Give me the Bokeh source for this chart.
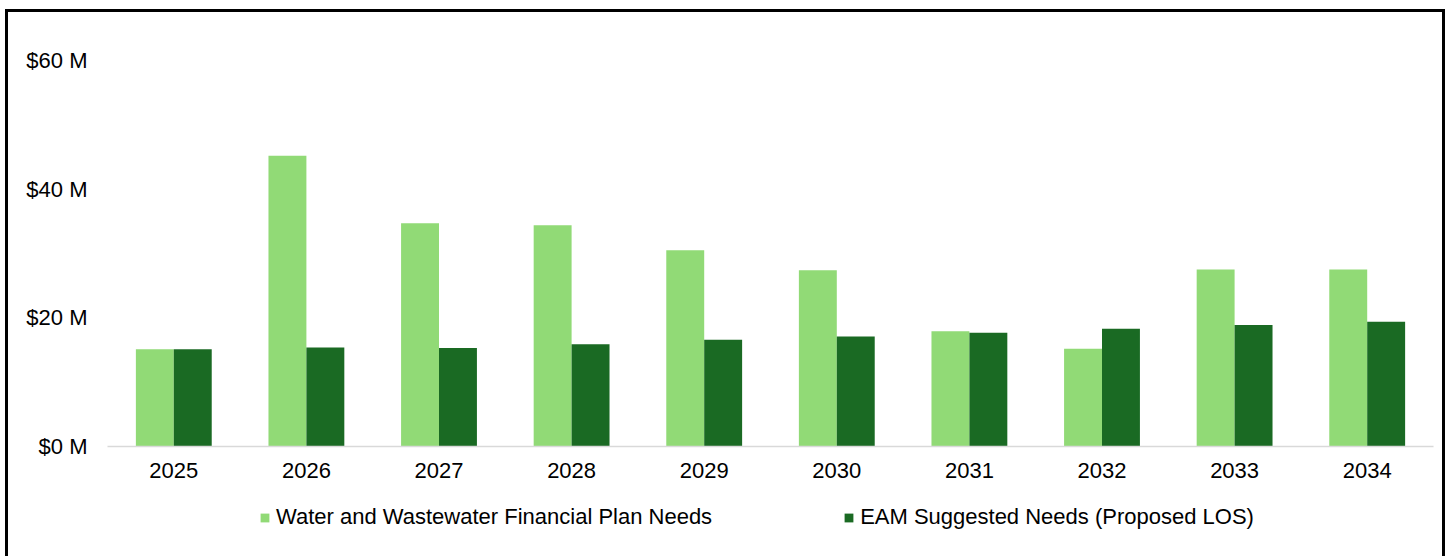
from bokeh.plotting import figure
from bokeh.layouts import column
from bokeh.models import ColumnDataSource, FactorRange, Range1d, Legend, LegendItem, FixedTicker
from bokeh.transform import dodge
from bokeh.embed import file_html
from bokeh.resources import INLINE

years = ["2025", "2026", "2027", "2028", "2029", "2030", "2031", "2032", "2033", "2034"]
plan_needs = [15.1, 45.2, 34.7, 34.4, 30.5, 27.4, 17.9, 15.2, 27.5, 27.5]
eam_needs = [15.1, 15.4, 15.3, 15.9, 16.6, 17.1, 17.7, 18.3, 18.9, 19.4]
series_names = ["Water and Wastewater Financial Plan Needs", "EAM Suggested Needs (Proposed LOS)"]
y_ticks = [0, 20, 40, 60]

LIGHT = "#91DA76"
DARK = "#1A6A23"
FONT = "Liberation Sans"

src = ColumnDataSource(dict(year=years, plan=plan_needs, eam=eam_needs))

p = figure(
    x_range=FactorRange(*years),
    y_range=Range1d(0, 60),
    width=1434, height=474,
    output_backend="svg", toolbar_location=None,
    min_border_left=99, min_border_right=9, min_border_top=48, min_border_bottom=40,
)
p.outline_line_color = None
p.xgrid.grid_line_color = None
p.ygrid.grid_line_color = None
p.x_range.range_padding = 0
p.x_range.factor_padding = 0

r1 = p.vbar(x=dodge("year", -0.143, range=p.x_range), top="plan", width=0.286,
            source=src, fill_color=LIGHT, line_color=None)
r2 = p.vbar(x=dodge("year", 0.143, range=p.x_range), top="eam", width=0.286,
            source=src, fill_color=DARK, line_color=None)

# y axis
p.yaxis.ticker = FixedTicker(ticks=y_ticks)
p.yaxis.major_label_overrides = {t: f"${t} M" for t in y_ticks}
p.yaxis.axis_line_color = None
p.yaxis.major_tick_line_color = None
p.yaxis.minor_tick_line_color = None
p.yaxis.major_label_standoff = 14
p.yaxis.major_label_text_font = FONT
p.yaxis.major_label_text_font_size = "22px"
p.yaxis.major_label_text_color = "#000000"

# x axis
p.xaxis.axis_line_color = "#D9D9D9"
p.xaxis.axis_line_width = 1.5
p.xaxis.major_tick_line_color = None
p.xaxis.minor_tick_line_color = None
p.xaxis.major_label_standoff = 10
p.xaxis.major_label_text_font = FONT
p.xaxis.major_label_text_font_size = "22px"
p.xaxis.major_label_text_color = "#000000"

# legend strip below the chart (swatch renderers sit outside the visible range)
pl = figure(width=1434, height=70, x_range=Range1d(0, 1), y_range=Range1d(0, 1),
            x_axis_type=None, y_axis_type=None,
            output_backend="svg", toolbar_location=None,
            min_border_left=0, min_border_right=0, min_border_top=0, min_border_bottom=0)
pl.outline_line_color = None
pl.xgrid.grid_line_color = None
pl.ygrid.grid_line_color = None
lr1 = pl.vbar(x=[-10], top=[-10], width=0.1, fill_color=LIGHT, line_color=None)
lr2 = pl.vbar(x=[-10], top=[-10], width=0.1, fill_color=DARK, line_color=None)

legend = Legend(items=[LegendItem(label=series_names[0], renderers=[lr1]),
                       LegendItem(label=series_names[1], renderers=[lr2])],
                orientation="horizontal", location=(152, 26),
                glyph_width=11, glyph_height=11, label_standoff=6, spacing=131,
                padding=0, margin=0,
                label_text_font=FONT, label_text_font_size="22px",
                label_text_color="#000000",
                border_line_color=None, background_fill_alpha=0)
pl.add_layout(legend, "center")

layout = column(p, pl, spacing=0)
layout.styles = {"border-left": "3px solid black", "border-top": "3px solid black",
                 "border-right": "3px solid black", "margin-left": "5px", "margin-top": "9px"}

open("out.html", "w").write(file_html(layout, INLINE))
